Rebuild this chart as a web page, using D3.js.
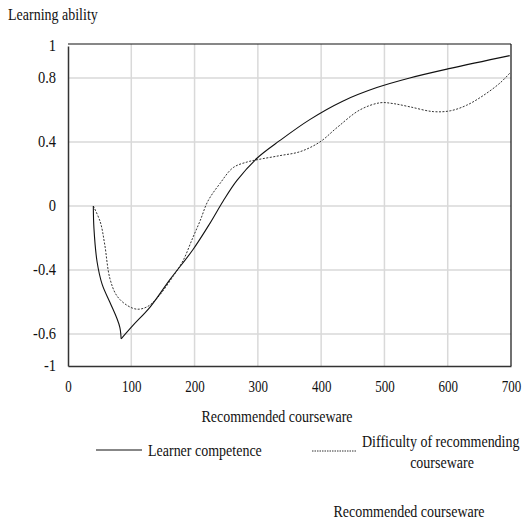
<!DOCTYPE html>
<html><head><meta charset="utf-8">
<script src="https://cdn.jsdelivr.net/npm/d3@7"></script>
<style>
body{margin:0;background:#fff;}
svg{display:block;}
svg text{font-family:"Liberation Serif","Times New Roman",Tinos,"DejaVu Serif","Noto Serif",serif !important;fill:#111;}
</style></head>
<body><svg id="chart" width="522" height="522"></svg>
<script>
// ---- data ----
const competenceX = [40,41,46,54,66,77,82,84,103,130,161,197,224,245,267,299,335,382,434,488,540,604,698];
const competenceY = [0,-0.14,-0.35,-0.49,-0.60,-0.70,-0.76,-0.83,-0.745,-0.63,-0.46,-0.275,-0.11,0.03,0.16,0.30,0.41,0.54,0.655,0.74,0.80,0.86,0.94];
const difficultyX = [40,51,58,66,77,93,109,125,141,166,182,197,209,221,240,261,283,300,335,367,398,425,461,493,514,540,577,604,630,656,683,698];
const difficultyY = [0,-0.10,-0.24,-0.45,-0.56,-0.62,-0.645,-0.63,-0.575,-0.44,-0.34,-0.20,-0.09,0.03,0.14,0.24,0.275,0.29,0.315,0.34,0.40,0.49,0.60,0.645,0.64,0.62,0.59,0.595,0.63,0.69,0.77,0.83];
const xTicks = [0,100,200,300,400,500,600,700];
const yTickValues = [1,0.8,0.4,0,-0.4,-0.8,-1];
const yTickLabels = ["1","0.8","0.4","0","-0.4","-0.6","-1"];
const seriesNames = ["Learner competence","Difficulty of recommending courseware"];
const xTitle = "Recommended courseware";
const yTitle = "Learning ability";

const FONT = '"Liberation Serif","Times New Roman",Tinos,"DejaVu Serif","Noto Serif",serif';

// ---- layout ----
const svg = d3.select("#chart").attr("font-family",FONT);
const L=68, R=511, T=44, B=366;
const x = d3.scaleLinear().domain([0,700]).range([L,R]);
const y = d3.scaleLinear().domain([-1,1]).range([B,T+2]);

// grid
svg.append("g").selectAll("line").data(xTicks.filter(d=>d>0&&d<700)).join("line")
  .attr("x1",d=>x(d)).attr("x2",d=>x(d)).attr("y1",T).attr("y2",B)
  .attr("stroke","#d9d9d9").attr("stroke-width",1.5);
svg.append("g").selectAll("line").data(yTickValues.filter(d=>d>-1&&d<1)).join("line")
  .attr("x1",L).attr("x2",R).attr("y1",d=>y(d)).attr("y2",d=>y(d))
  .attr("stroke","#d9d9d9").attr("stroke-width",1.5);

// frame
svg.append("line").attr("x1",L).attr("x2",R).attr("y1",T).attr("y2",T).attr("stroke","#111").attr("stroke-width",1.2);
svg.append("line").attr("x1",R).attr("x2",R).attr("y1",T).attr("y2",B).attr("stroke","#111").attr("stroke-width",1.2);

// axes
const sy = 1.3;
const xAxis = svg.append("g").attr("transform",`translate(0,${B})`)
  .call(d3.axisBottom(x).tickValues(xTicks).tickSize(0).tickPadding(0).tickFormat(d3.format("d")));
xAxis.attr("font-family",FONT);
xAxis.select(".domain").attr("stroke","#333").attr("stroke-width",1.5);
xAxis.selectAll("text").attr("font-size",13).attr("font-family",FONT).attr("dy",null)
  .attr("dominant-baseline","central").attr("y",20/sy)
  .attr("transform",`scale(1,${sy})`);

const sy2 = 1.2;
const yAxis = svg.append("g").attr("transform",`translate(${L},0)`)
  .call(d3.axisLeft(y).tickValues(yTickValues).tickSize(0).tickPadding(12)
    .tickFormat((d,i)=>yTickLabels[i]));
yAxis.attr("font-family",FONT);
yAxis.select(".domain").attr("stroke","#333").attr("stroke-width",1.5);
yAxis.selectAll(".tick").each(function(d){
  const g=d3.select(this);
  const ty = y(d);
  g.attr("transform",null);
  g.select("text").attr("font-size",14.5).attr("font-family",FONT).attr("dy",null).attr("x",null)
    .attr("dominant-baseline","central")
    .attr("transform",`translate(-12,${ty-1}) scale(1,${sy2})`);
});

// lines
const line = d3.line().x(d=>x(d[0])).y(d=>y(d[1])).curve(d3.curveCatmullRom.alpha(0.5));
const comp = competenceX.map((v,i)=>[v,competenceY[i]]);
const minIdx = d3.minIndex(competenceY);
const diff = difficultyX.map((v,i)=>[v,difficultyY[i]]);
svg.append("path").datum(diff).attr("d",line).attr("fill","none")
  .attr("stroke","#333").attr("stroke-width",1).attr("stroke-dasharray","2,1.5");
[comp.slice(0,minIdx+1), comp.slice(minIdx)].forEach(seg=>{
  svg.append("path").datum(seg).attr("d",line).attr("fill","none")
    .attr("stroke","#111").attr("stroke-width",1.1);
});

// titles
function stretchedText(tx,ty,str,size,k,anchor){
  return svg.append("text").attr("transform",`translate(${tx},${ty}) scale(1,${k})`)
    .attr("font-family",FONT)
    .attr("font-size",size).attr("text-anchor",anchor||"start").text(str);
}
stretchedText(8,20,yTitle,14,1.12);
stretchedText(277,422,xTitle,14,1.15,"middle");

// legend
svg.append("line").attr("x1",96).attr("x2",142).attr("y1",450).attr("y2",450).attr("stroke","#111").attr("stroke-width",1.1);
stretchedText(148,456,seriesNames[0],14,1.15);
svg.append("line").attr("x1",312).attr("x2",357).attr("y1",451).attr("y2",451).attr("stroke","#333").attr("stroke-width",1).attr("stroke-dasharray","1.5,1");
const parts = seriesNames[1].split(" courseware");
stretchedText(362,447,parts[0],14,1.15);
stretchedText(442,468,"courseware",14,1.15,"middle");

stretchedText(409,517,xTitle,14,1.15,"middle");
</script></body></html>
